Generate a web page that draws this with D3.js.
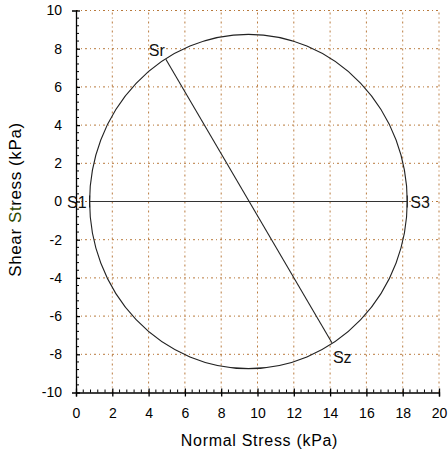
<!DOCTYPE html>
<html>
<head>
<meta charset="utf-8">
<script src="https://cdn.jsdelivr.net/npm/d3@7"></script>
<style>
  body { margin: 0; background: #fff; }
  text { font-family: "Liberation Sans", Arial, sans-serif; }
</style>
</head>
<body>
<svg id="mohr"></svg>
<script>
// principal stresses and stress points (kPa)
const s1 = 0.75;
const s3 = 18.25;
const srPoint = [4.95, 7.45];
const szPoint = [14.1, -7.4];
const xTicks = [0, 2, 4, 6, 8, 10, 12, 14, 16, 18, 20];
const yTicks = [-10, -8, -6, -4, -2, 0, 2, 4, 6, 8, 10];
const pointLabels = [
  { name: 'S1', p: [s1, 0] },
  { name: 'S3', p: [s3, 0] },
  { name: 'Sr', p: srPoint },
  { name: 'Sz', p: szPoint }
];

const width = 448;
const height = 454;
const svg = d3.select('#mohr').attr('width', width).attr('height', height);

const x = d3.scaleLinear().domain([0, 20]).range([76, 439]);
const y = d3.scaleLinear().domain([-10, 10]).range([392.5, 10.5]);

const gridColor = '#b8793c';

// grid lines
const grid = svg.append('g');
grid.selectAll('.gx')
  .data(xTicks.slice(1))
  .enter().append('line')
    .attr('x1', d => x(d)).attr('x2', d => x(d))
    .attr('y1', y(-10)).attr('y2', y(10))
    .attr('stroke', gridColor)
    .attr('stroke-dasharray', '2,3,1,3');
grid.selectAll('.gy')
  .data(yTicks.slice(1))
  .enter().append('line')
    .attr('y1', d => y(d)).attr('y2', d => y(d))
    .attr('x1', x(0)).attr('x2', x(20))
    .attr('stroke', gridColor)
    .attr('stroke-dasharray', '2,3,1,3');

// minor ticks, 0.4 apart, drawn inward
const minor = d3.range(0, 50).map(i => i * 0.4).filter(v => Math.abs(v / 2 - Math.round(v / 2)) > 0.01);
svg.append('g').selectAll('line')
  .data(minor)
  .enter().append('line')
    .attr('x1', d => x(d)).attr('x2', d => x(d))
    .attr('y1', y(-10)).attr('y2', y(-10) - 3)
    .attr('stroke', '#000');
svg.append('g').selectAll('line')
  .data(minor.map(v => v - 10))
  .enter().append('line')
    .attr('y1', d => y(d)).attr('y2', d => y(d))
    .attr('x1', x(0)).attr('x2', x(0) + 3)
    .attr('stroke', '#000');

// axes (plain hyphen for negatives, like the original)
const fmt = d => String(d);
const xAxis = svg.append('g')
  .attr('transform', `translate(0,${y(-10)})`)
  .call(d3.axisBottom(x).tickValues(xTicks).tickFormat(fmt).tickSize(4).tickPadding(12));
const yAxis = svg.append('g')
  .attr('transform', `translate(${x(0)},0)`)
  .call(d3.axisLeft(y).tickValues(yTicks).tickFormat(fmt).tickSize(4).tickPadding(10));
[xAxis, yAxis].forEach(a => {
  a.attr('font-size', null).attr('font-family', null);
  a.select('.domain').attr('stroke', '#000').attr('stroke-width', 1.3);
  a.selectAll('.tick line').attr('stroke', '#000').attr('stroke-width', 1.3);
  a.selectAll('.tick text')
    .style('font-size', '14px')
    .attr('fill', '#000');
});
xAxis.selectAll('.tick line').attr('y1', -4);
yAxis.selectAll('.tick line').attr('x2', 4);

// Mohr circle
const cx = (s1 + s3) / 2;
const r = (s3 - s1) / 2;
svg.append('ellipse')
  .attr('cx', x(cx)).attr('cy', y(0))
  .attr('rx', x(cx + r) - x(cx))
  .attr('ry', y(0) - y(r))
  .attr('fill', 'none')
  .attr('stroke', '#222')
  .attr('stroke-width', 1.1);

// diameters
svg.append('line')
  .attr('x1', x(s1)).attr('y1', y(0))
  .attr('x2', x(s3)).attr('y2', y(0))
  .attr('stroke', '#333').attr('stroke-width', 1.1);
svg.append('line')
  .attr('x1', x(srPoint[0])).attr('y1', y(srPoint[1]))
  .attr('x2', x(szPoint[0])).attr('y2', y(szPoint[1]))
  .attr('stroke', '#222').attr('stroke-width', 1.1);

// small end bars at S1 and S3
[s1, s3].forEach(v => {
  svg.append('line')
    .attr('x1', x(v)).attr('x2', x(v))
    .attr('y1', y(0) - 6).attr('y2', y(0) + 6)
    .attr('stroke', '#222').attr('stroke-width', 1.1);
});

// point labels
const offsets = {
  S1: { dx: -3, dy: 6, anchor: 'end' },
  S3: { dx: 3, dy: 6, anchor: 'start' },
  Sr: { dx: -1, dy: -3, anchor: 'end' },
  Sz: { dx: 1, dy: 20, anchor: 'start' }
};
svg.append('g').selectAll('text')
  .data(pointLabels)
  .enter().append('text')
    .attr('x', d => x(d.p[0]) + offsets[d.name].dx)
    .attr('y', d => y(d.p[1]) + offsets[d.name].dy)
    .attr('text-anchor', d => offsets[d.name].anchor)
    .style('font-size', '16px')
    .attr('fill', '#111')
    .text(d => d.name);

// axis titles
svg.append('text')
  .attr('x', (x(0) + x(20)) / 2 + 2)
  .attr('y', 446)
  .attr('text-anchor', 'middle')
  .style('font-size', '16px')
  .style('letter-spacing', '0.7px')
  .text('Normal Stress (kPa)');

const yt = svg.append('text')
  .attr('transform', `translate(21,${y(0) - 2}) rotate(-90)`)
  .attr('text-anchor', 'middle')
  .style('font-size', '17px')
  .style('letter-spacing', '0.6px');
yt.append('tspan').text('Shear ');
yt.append('tspan').attr('fill', '#2f4a00').text('St');
yt.append('tspan').text('ress (kPa)');
</script>
</body>
</html>
